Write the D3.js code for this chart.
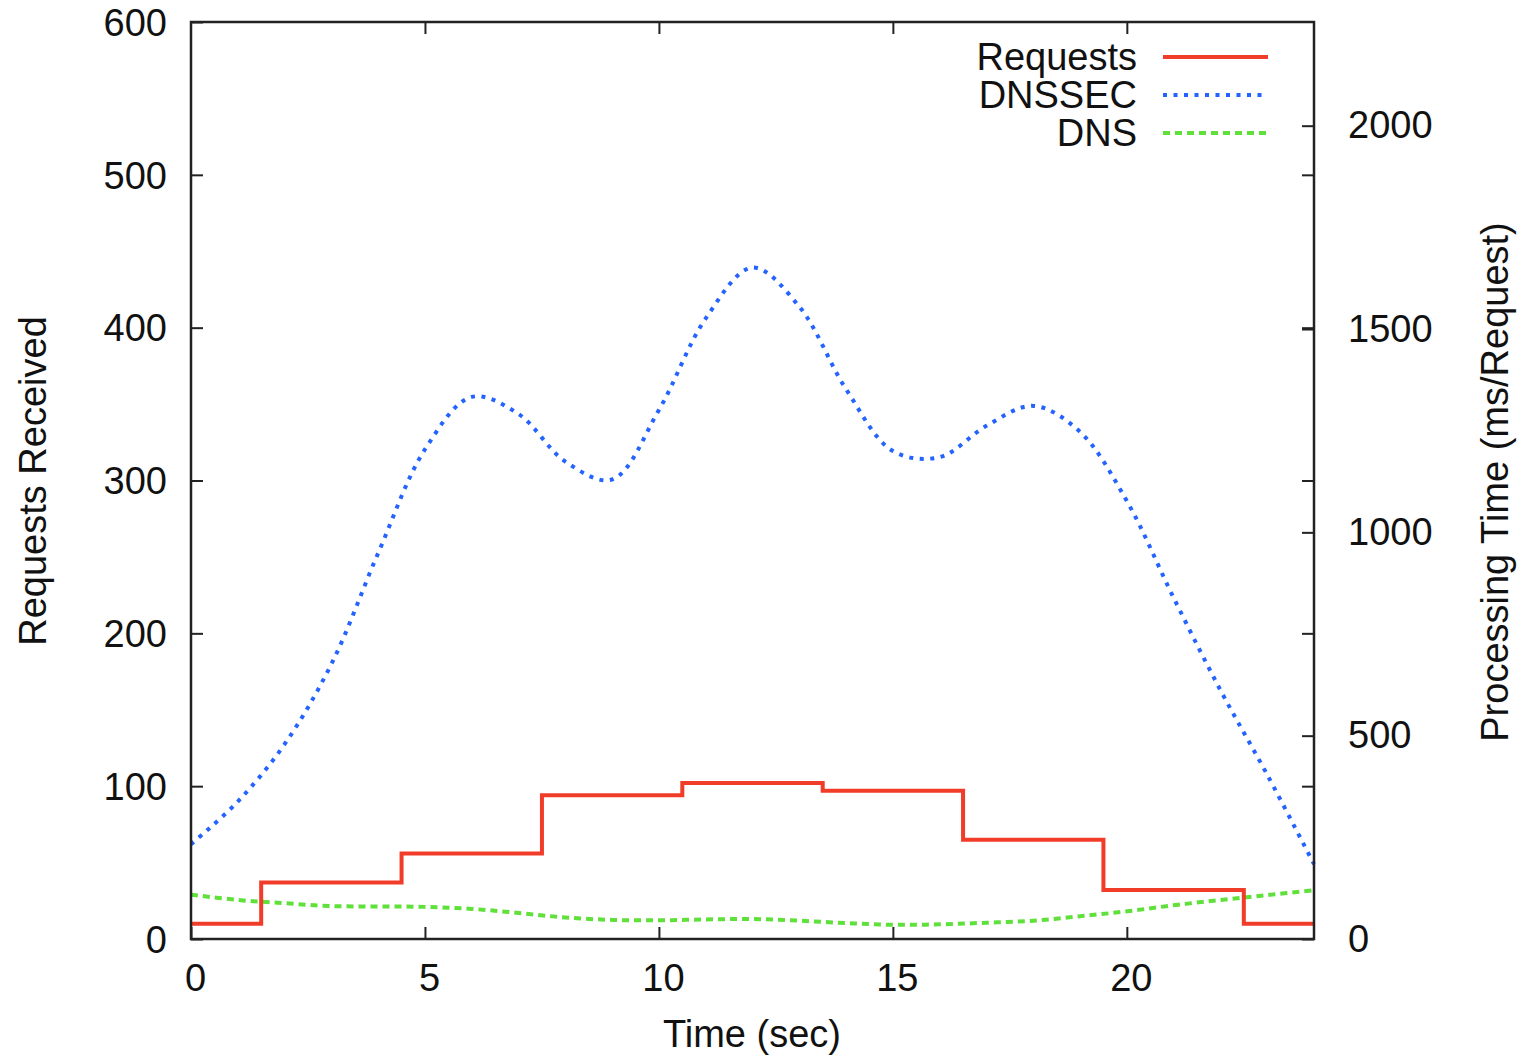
<!DOCTYPE html>
<html>
<head>
<meta charset="utf-8">
<script src="https://cdn.jsdelivr.net/npm/d3@7"></script>
<style>
  body { margin: 0; background: #fff; }
  svg text { font-family: "Liberation Sans", Arial, sans-serif; fill: #111; }
</style>
</head>
<body>
<svg id="chart" width="1521" height="1057"></svg>
<script>
// time axis (sec)
const stepTimes = [0, 3, 6, 9, 12, 15, 18, 21, 24];
const requests = [10, 37, 56, 94, 102, 97, 65, 32, 10];

// processing time, sampled every second (ms/request)
const seconds = d3.range(0, 25);
const dnssec = [233, 338, 479, 676, 949, 1204, 1333, 1291, 1174, 1130, 1301, 1526, 1651,
                1555, 1352, 1200, 1185, 1262, 1311, 1247, 1077, 839, 612, 404, 184];
const dns = [109, 96, 88, 81, 80, 79, 74, 64, 53, 47, 46, 48, 49,
             45, 39, 35, 36, 40, 45, 56, 68, 83, 96, 108, 120];

const xTicks = [0, 5, 10, 15, 20];
const yTicks = [0, 100, 200, 300, 400, 500, 600];
const y2Ticks = [0, 500, 1000, 1500, 2000];

const legendItems = [
  { name: "Requests", color: "#f03c28", dash: null },
  { name: "DNSSEC", color: "#2563ff", dash: "4,6.5" },
  { name: "DNS", color: "#5fe03a", dash: "7,5" }
];

const svg = d3.select("#chart");
const plotLeft = 191, plotRight = 1314, plotTop = 22, plotBottom = 939;
const fontSize = 38;

const x = d3.scaleLinear().domain([0, 24]).range([plotLeft, plotRight]);
const y = d3.scaleLinear().domain([0, 600]).range([plotBottom, plotTop]);
const y2 = d3.scaleLinear().domain([0, 2255]).range([plotBottom, plotTop]);

// lines
const reqLine = d3.line().x((d, i) => x(stepTimes[i])).y(d => y(d)).curve(d3.curveStep);
const secLine = d3.line().x((d, i) => x(seconds[i])).y(d => y2(d)).curve(d3.curveCatmullRom.alpha(0.5));

svg.append("path").attr("d", secLine(dns))
  .attr("fill", "none").attr("stroke", legendItems[2].color)
  .attr("stroke-width", 4).attr("stroke-dasharray", legendItems[2].dash);

svg.append("path").attr("d", secLine(dnssec))
  .attr("fill", "none").attr("stroke", legendItems[1].color)
  .attr("stroke-width", 4).attr("stroke-dasharray", legendItems[1].dash);

svg.append("path").attr("d", reqLine(requests))
  .attr("fill", "none").attr("stroke", legendItems[0].color)
  .attr("stroke-width", 4);

// axes
function styleAxis(g) {
  g.select(".domain").remove();
  g.selectAll(".tick line").attr("stroke", "#222").attr("stroke-width", 2);
  g.selectAll(".tick text").attr("font-size", fontSize).attr("fill", "#111")
    .attr("font-family", "Liberation Sans, Arial, sans-serif");
}

svg.append("g").attr("transform", `translate(${plotLeft},0)`)
  .call(d3.axisLeft(y).tickValues(yTicks).tickSize(-12).tickPadding(24).tickFormat(d3.format("d")))
  .call(styleAxis)
  .selectAll(".tick text").attr("dy", "0.35em");

svg.append("g").attr("transform", `translate(${plotRight},0)`)
  .call(d3.axisLeft(y).tickValues(yTicks.slice(1, -1)).tickSize(12).tickFormat(""))
  .call(styleAxis);

svg.append("g").attr("transform", `translate(${plotRight},0)`)
  .call(d3.axisRight(y2).tickValues(y2Ticks).tickSize(-12).tickPadding(34).tickFormat(d3.format("d")))
  .call(styleAxis);

svg.append("g").attr("transform", `translate(0,${plotBottom})`)
  .call(d3.axisBottom(x).tickValues(xTicks).tickSize(-12).tickPadding(25).tickFormat(d3.format("d")))
  .call(styleAxis)
  .selectAll(".tick text").attr("dx", 4);

svg.append("g").attr("transform", `translate(0,${plotTop})`)
  .call(d3.axisTop(x).tickValues(xTicks.slice(1)).tickSize(-12).tickFormat(""))
  .call(styleAxis);

// frame
svg.append("rect")
  .attr("x", plotLeft).attr("y", plotTop)
  .attr("width", plotRight - plotLeft).attr("height", plotBottom - plotTop)
  .attr("fill", "none").attr("stroke", "#222").attr("stroke-width", 2.5);

// axis titles
svg.append("text").attr("x", 752).attr("y", 1047)
  .attr("text-anchor", "middle").attr("font-size", fontSize)
  .text("Time (sec)");

svg.append("text").attr("transform", "translate(46,481) rotate(-90)")
  .attr("text-anchor", "middle").attr("font-size", fontSize)
  .text("Requests Received");

svg.append("text").attr("transform", "translate(1508,482) rotate(-90)")
  .attr("text-anchor", "middle").attr("font-size", fontSize)
  .text("Processing Time (ms/Request)");

// legend
const legend = svg.append("g");
legendItems.forEach((item, i) => {
  const ly = 57 + i * 38;
  legend.append("text").attr("x", 1137).attr("y", ly).attr("dy", "0.35em")
    .attr("text-anchor", "end").attr("font-size", fontSize).text(item.name);
  legend.append("line")
    .attr("x1", 1163).attr("x2", 1268).attr("y1", ly).attr("y2", ly)
    .attr("stroke", item.color).attr("stroke-width", 4)
    .attr("stroke-dasharray", item.dash);
});
</script>
</body>
</html>
